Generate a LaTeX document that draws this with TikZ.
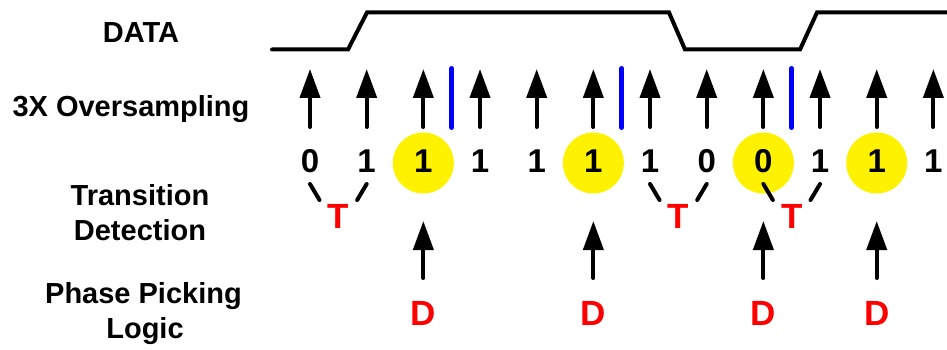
\documentclass[tikz,border=0pt]{standalone}
\usepackage{fontspec}
\setmainfont{Liberation Sans}
\usetikzlibrary{arrows.meta}
\begin{document}
\begin{tikzpicture}[x=1pt,y=-1pt,
  lbl/.style={font=\fontsize{29}{35}\selectfont\bfseries, anchor=base, inner sep=0pt},
  digit/.style={font=\fontsize{33}{40}\selectfont\bfseries, anchor=base, inner sep=0pt},
  redlbl/.style={font=\fontsize{35}{40}\selectfont\bfseries, text=red, anchor=base, inner sep=0pt},
  samp/.style={line width=4pt, line cap=round, -{Triangle[length=29pt,width=20pt]}},
  bluebar/.style={draw=blue, line width=5pt, line cap=round},
  tline/.style={line width=4pt, line cap=round},
  wave/.style={line width=4pt, line cap=round, line join=miter},
  hl/.style={circle, fill=yellow, minimum size=61pt, inner sep=0pt}]
\useasboundingbox (0,0) rectangle (947,350);

% left labels
\node[lbl] (ldata) at (141,43) {DATA};
\node[lbl] (lover) at (131,117) {3X Oversampling};
\node[lbl] (ltr1) at (140,205) {Transition};
\node[lbl] (ltr2) at (140,240) {Detection};
\node[lbl] (lph1) at (143.5,303) {Phase Picking};
\node[lbl] (lph2) at (145,338) {Logic};

% data waveform
\coordinate (w0) at (272,49.5);
\coordinate (w1) at (348,49.5);
\coordinate (w2) at (367,12.5);
\coordinate (w3) at (669,12.5);
\coordinate (w4) at (685,49.5);
\coordinate (w5) at (800,49.5);
\coordinate (w6) at (817,12.5);
\coordinate (w7) at (949,12.5);
\draw[wave] (w0) -- (w1) -- (w2) -- (w3) -- (w4) -- (w5) -- (w6) -- (w7);

% highlight circles
\foreach \i in {2,5,8,10} {
  \pgfmathsetmacro\xx{310+56.67*\i}
  \node[hl] (c\i) at (\xx,163) {};
}

% sampling arrows and digits
\foreach \i/\d in {0/0,1/1,2/1,3/1,4/1,5/1,6/1,7/0,8/0,9/1,10/1,11/1} {
  \pgfmathsetmacro\xx{310+56.67*\i}
  \coordinate (sb\i) at (\xx,127);
  \coordinate (st\i) at (\xx,69);
  \draw[samp] (sb\i) -- (st\i);
  \node[digit] (d\i) at (\xx,172) {\d};
}

% blue phase boundaries
\foreach \a/\k in {2/1,5/2,8/3} {
  \pgfmathsetmacro\xx{310+56.67*\a+28.33}
  \coordinate (bt\k) at (\xx,68.5);
  \coordinate (bb\k) at (\xx,127.5);
  \draw[bluebar] (bt\k) -- (bb\k);
}

% transition detection
\foreach \a/\b/\k in {0/1/1,6/7/2,8/9/3} {
  \pgfmathsetmacro\xa{310+56.67*\a}
  \pgfmathsetmacro\xb{310+56.67*\b}
  \pgfmathsetmacro\xm{(\xa+\xb)/2}
  \coordinate (ta\k) at (\xa,184);
  \coordinate (tae\k) at (\xa+9.5,200);
  \coordinate (tb\k) at (\xb,184);
  \coordinate (tbe\k) at (\xb-9.5,200);
  \draw[tline] (ta\k) -- (tae\k);
  \draw[tline] (tb\k) -- (tbe\k);
  \node[redlbl] (T\k) at (\xm,228) {T};
}

% phase picking
\foreach \i in {2,5,8,10} {
  \pgfmathsetmacro\xx{310+56.67*\i}
  \coordinate (pb\i) at (\xx,278);
  \coordinate (pt\i) at (\xx,221);
  \draw[samp] (pb\i) -- (pt\i);
  \node[redlbl] (D\i) at (\xx,325) {D};
}
\end{tikzpicture}
\end{document}
